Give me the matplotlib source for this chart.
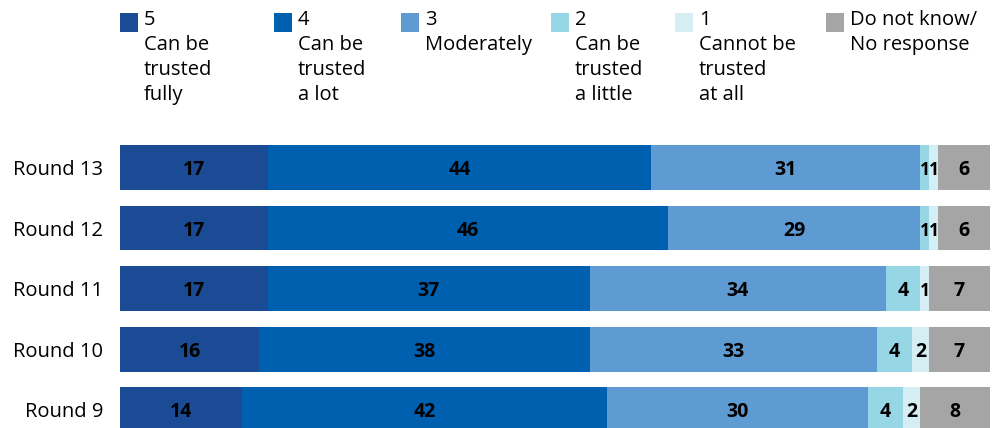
import matplotlib
matplotlib.use("Agg")
import matplotlib.pyplot as plt
from matplotlib.patches import Rectangle

plt.rcParams['font.family'] = ['Open Sans', 'DejaVu Sans']

rounds = ["Round 13", "Round 12", "Round 11", "Round 10", "Round 9"]
trusted_fully = [17, 17, 17, 16, 14]
trusted_a_lot = [44, 46, 37, 38, 42]
moderately = [31, 29, 34, 33, 30]
trusted_a_little = [1, 1, 4, 4, 4]
not_trusted = [1, 1, 1, 2, 2]
dont_know = [6, 6, 7, 7, 8]

series = [trusted_fully, trusted_a_lot, moderately, trusted_a_little, not_trusted, dont_know]
legend_labels = ["5\nCan be\ntrusted\nfully",
                 "4\nCan be\ntrusted\na lot",
                 "3\nModerately",
                 "2\nCan be\ntrusted\na little",
                 "1\nCannot be\ntrusted\nat all",
                 "Do not know/\nNo response"]
colors = ["#1A4B94", "#0060B0", "#5E9BD3", "#97D7E5", "#D5EEF4", "#A5A5A5"]

W, H = 993, 428
fig = plt.figure(figsize=(W / 100, H / 100), dpi=100)
ax = fig.add_axes([120 / W, 0, 870 / W, (H - 140) / H])

ypos = list(range(len(rounds)))
left = [0] * len(rounds)
for vals, col in zip(series, colors):
    ax.barh(ypos, vals, left=left, height=0.74, color=col, edgecolor='none')
    for y, v, l in zip(ypos, vals, left):
        # single-point segments are narrow, so their labels use a tighter font
        fs = 12.5 if v == 1 else 14
        ax.text(l + v / 2, y + 0.04, f"{v}", ha='center', va='center',
                fontsize=fs, fontweight='bold', color='black')
    left = [a + b for a, b in zip(left, vals)]

ax.set_xlim(0, 100)
ax.set_ylim(4.30, -0.454)
ax.set_yticks(ypos)
ax.set_yticklabels(rounds, fontsize=14.5)
ax.tick_params(axis='y', length=0, pad=12)
ax.set_xticks([])
for s in ax.spines.values():
    s.set_visible(False)

# legend: colour squares with multi-line captions
leg_x = [120, 274, 401, 551, 675, 826]
for x, col, lab in zip(leg_x, colors, legend_labels):
    fig.add_artist(Rectangle((x / W, 1 - 32 / H), 18 / W, 19 / H,
                             transform=fig.transFigure, color=col, lw=0))
    fig.text((x + 24) / W, 1 - 10 / H, lab, ha='left', va='top',
             fontsize=14.5, linespacing=1.33)

fig.savefig("out.png", dpi=100)
